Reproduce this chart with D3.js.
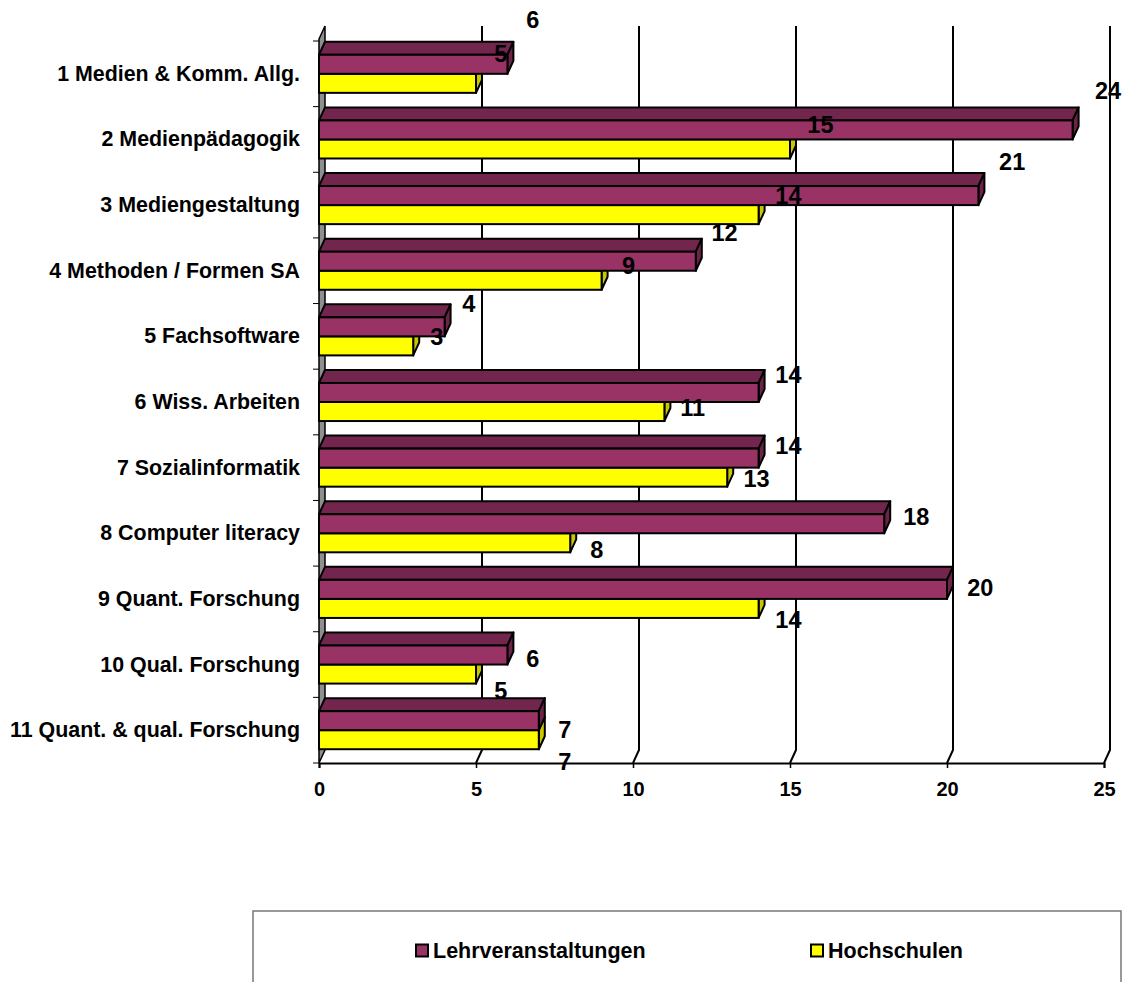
<!DOCTYPE html>
<html><head><meta charset="utf-8">
<script src="https://cdn.jsdelivr.net/npm/d3@7"></script>
<style>
html,body{margin:0;padding:0;background:#fff;}
text{font-family:Arial,"Liberation Sans",sans-serif;font-weight:bold;fill:#000;}
</style></head>
<body>
<svg id="chart" width="1125" height="982"></svg>
<script>
const categories = ["1 Medien & Komm. Allg.","2 Medienpädagogik","3 Mediengestaltung","4 Methoden / Formen SA","5 Fachsoftware","6 Wiss. Arbeiten","7 Sozialinformatik","8 Computer literacy","9 Quant. Forschung","10 Qual. Forschung","11 Quant. & qual. Forschung"];
const seriesNames = ["Lehrveranstaltungen","Hochschulen"];
const lehrveranstaltungen = [6,24,21,12,4,14,14,18,20,6,7];
const hochschulen = [5,15,14,9,3,11,13,8,14,5,7];
const xTicks = [0,5,10,15,20,25];

const colors = {
  Lehrveranstaltungen: {front:"#993366", top:"#73264d", side:"#6b2348"},
  Hochschulen: {front:"#ffff00", top:"#bfbf00", side:"#c8c800"}
};

const svg = d3.select("#chart");
const DX = 6, DY = -13;
const pLeft = 319, pRight = 1104, pTop = 41, pBottom = 763;

const x = d3.scaleLinear().domain([0,25]).range([pLeft,pRight]);
const y = d3.scaleBand().domain(categories).range([pTop,pBottom]).paddingInner(0.42).paddingOuter(0.21);
const ys = d3.scaleBand().domain(seriesNames).range([0,y.bandwidth()]);

// label position scales (Excel 3D label placement)
const lx = d3.scaleLinear().domain([0,25]).range([341,1140]);
const lyP = d3.scalePoint().domain(categories).range([20,730]);
const lyY = d3.scalePoint().domain(categories).range([54,762]);

// back wall gridlines + floor
const grid = svg.append("g");
xTicks.forEach(v=>{
  if(v===0) return;
  grid.append("path")
    .attr("d",`M${x(v)+DX},${pTop+DY-2}L${x(v)+DX},${pBottom+DY}L${x(v)},${pBottom}`)
    .attr("fill","none").attr("stroke","#000").attr("stroke-width",2);
});

// left wall
svg.append("path")
  .attr("d",`M${pLeft},${pTop-2}L${pLeft+DX},${pTop+DY-2}L${pLeft+DX},${pBottom+DY}L${pLeft},${pBottom}Z`)
  .attr("fill","#8f8f8f").attr("stroke","#000").attr("stroke-width",1.5);

// y ticks
const step = y.step();
const yb = d3.range(categories.length+1).map(i=>pTop+i*step);
svg.append("g").selectAll("line").data(yb).join("line")
  .attr("x1",pLeft-6).attr("x2",pLeft).attr("y1",d=>d).attr("y2",d=>d)
  .attr("stroke","#000").attr("stroke-width",1);

// x axis
const xAxis = d3.axisBottom(x).tickValues(xTicks).tickSize(5).tickPadding(14).tickFormat(d3.format("d"));
const gx = svg.append("g").attr("transform",`translate(0,${pBottom})`).call(xAxis);
gx.select(".domain").attr("stroke","#000").attr("stroke-width",2);
gx.selectAll(".tick line").attr("stroke","#000").attr("stroke-width",1.5);
gx.selectAll(".tick text").style("font-size","20px").style("font-family",'Arial,"Liberation Sans",sans-serif').style("font-weight","bold").attr("fill","#000");

// category labels
svg.append("g").selectAll("text").data(categories).join("text")
  .attr("x",300).attr("y",d=>y(d)+y.bandwidth()/2)
  .attr("text-anchor","end").attr("dominant-baseline","central")
  .style("font-size","21.4px").text(d=>d);

// bars
const barsG = svg.append("g");
function drawBar(g, cat, name, v){
  const c = colors[name];
  const y1 = y(cat)+ys(name), y2 = y1+ys.bandwidth();
  const x0 = x(0), xe = x(v);
  g.append("path").attr("d",`M${x0},${y1}L${xe},${y1}L${xe+DX},${y1+DY}L${x0+DX},${y1+DY}Z`)
    .attr("fill",c.top).attr("stroke","#000").attr("stroke-width",2).attr("stroke-linejoin","round");
  g.append("path").attr("d",`M${xe},${y1}L${xe+DX},${y1+DY}L${xe+DX},${y2+DY}L${xe},${y2}Z`)
    .attr("fill",c.side).attr("stroke","#000").attr("stroke-width",2).attr("stroke-linejoin","round");
  g.append("rect").attr("x",x0).attr("y",y1).attr("width",xe-x0).attr("height",y2-y1)
    .attr("fill",c.front).attr("stroke","#000").attr("stroke-width",2);
}
categories.forEach((cat,i)=>{
  const g = barsG.append("g");
  drawBar(g, cat, "Hochschulen", hochschulen[i]);
  drawBar(g, cat, "Lehrveranstaltungen", lehrveranstaltungen[i]);
});

// data labels
const lab = svg.append("g").style("font-size","23.5px");
categories.forEach((cat,i)=>{
  lab.append("text").attr("x",lx(lehrveranstaltungen[i])).attr("y",lyP(cat))
    .attr("text-anchor","middle").attr("dominant-baseline","central").text(lehrveranstaltungen[i]);
  lab.append("text").attr("x",lx(hochschulen[i])).attr("y",lyY(cat))
    .attr("text-anchor","middle").attr("dominant-baseline","central").text(hochschulen[i]);
});

// legend
const lg = svg.append("g");
lg.append("rect").attr("x",253).attr("y",911).attr("width",868).attr("height",100)
  .attr("fill","#fff").attr("stroke","#777").attr("stroke-width",1.5);
const legendItems = [{name:"Lehrveranstaltungen",x:416},{name:"Hochschulen",x:811}];
legendItems.forEach(it=>{
  lg.append("rect").attr("x",it.x).attr("y",944.5).attr("width",12).attr("height",12)
    .attr("fill",colors[it.name].front).attr("stroke","#000").attr("stroke-width",2);
  lg.append("text").attr("x",it.x+17).attr("y",951).attr("dominant-baseline","central")
    .style("font-size","21.5px").text(it.name);
});
</script>
</body></html>
